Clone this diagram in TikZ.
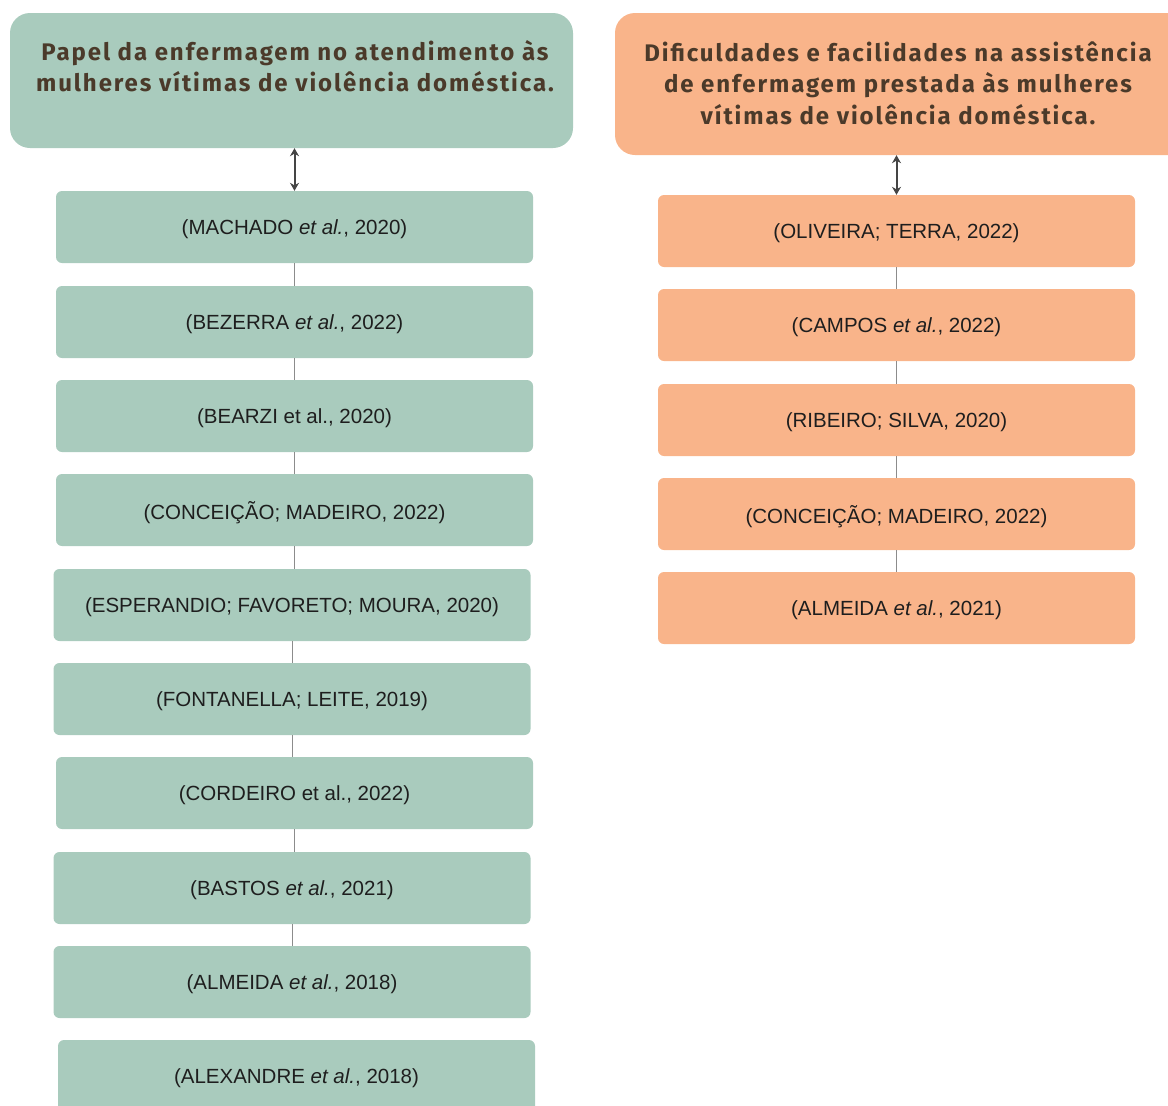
\documentclass[tikz,border=0pt]{standalone}
\usepackage{fontspec}
\setmainfont{Liberation Sans}
\newfontfamily\headfont[LetterSpace=8]{Fira Sans}
\definecolor{mint}{HTML}{A9CBBD}
\definecolor{peach}{HTML}{F9B48A}
\definecolor{brownink}{HTML}{4B3A2A}
\definecolor{linkgray}{HTML}{8C8C8C}
\definecolor{arrowgray}{HTML}{454545}
\definecolor{boxink}{HTML}{1E1E1E}
\usetikzlibrary{arrows.meta}
\tikzset{
  headbox/.style={rounded corners=20pt, inner sep=0pt, draw=none},
  headtext/.style={font=\headfont\bfseries\fontsize{24}{31.5}\selectfont, text=brownink, align=center, inner sep=0pt},
  refbox/.style={rounded corners=6pt, inner sep=0pt, minimum height=72pt, draw=none, text depth=0pt,
    font=\fontsize{20.5}{22}\selectfont, text=boxink},
  gbox/.style={refbox, fill=mint, minimum width=477pt},
  obox/.style={refbox, fill=peach, minimum width=477pt},
  link/.style={draw=linkgray, line width=0.9pt},
  dblarrow/.style={draw=arrowgray, line width=2pt, {Stealth[length=8pt,width=9pt]}-{Stealth[length=8pt,width=9pt]}}
}
\newcommand{\etal}{\textit{et al.}}
\begin{document}
\begin{tikzpicture}[x=1pt,y=-1pt]
\useasboundingbox (0,0) rectangle (1168,1106);
\clip (0,0) rectangle (1168,1106);

% headers
\node[headbox, fill=mint, minimum width=563pt, minimum height=135pt] (lh) at (291.5,80.5) {};
\node[headtext] (lht) at (295,66) {Papel da enfermagem no atendimento às\\mulheres vítimas de violência doméstica.};
\node[headbox, fill=peach, minimum width=580pt, minimum height=142pt] (rh) at (905,84) {};
\node[headtext] (rht) at (898,83) {Dificuldades e facilidades na assistência\\de enfermagem prestada às mulheres\\vítimas de violência doméstica.};

% left column
\node[gbox] (l1) at (294.5,227) {(MACHADO \etal, 2020)};
\node[gbox] (l2) at (294.5,322) {(BEZERRA \etal, 2022)};
\node[gbox] (l3) at (294.5,416) {(BEARZI et al., 2020)};
\node[gbox] (l4) at (294.5,510) {(CONCEIÇÃO; MADEIRO, 2022)};
\node[gbox] (l5) at (292,605) {(ESPERANDIO; FAVORETO; MOURA, 2020)};
\node[gbox] (l6) at (292,699) {(FONTANELLA; LEITE, 2019)};
\node[gbox] (l7) at (294.5,793) {(CORDEIRO et al., 2022)};
\node[gbox] (l8) at (292,888) {(BASTOS \etal, 2021)};
\node[gbox] (l9) at (292,982) {(ALMEIDA \etal, 2018)};
\node[gbox] (l10) at (296.5,1076) {(ALEXANDRE \etal, 2018)};

% right column
\node[obox] (r1) at (896.5,231) {(OLIVEIRA; TERRA, 2022)};
\node[obox] (r2) at (896.5,325) {(CAMPOS \etal, 2022)};
\node[obox] (r3) at (896.5,420) {(RIBEIRO; SILVA, 2020)};
\node[obox] (r4) at (896.5,514) {(CONCEIÇÃO; MADEIRO, 2022)};
\node[obox] (r5) at (896.5,608) {(ALMEIDA \etal, 2021)};

% header arrows
\draw[dblarrow] (l1.north |- lh.south) -- (l1.north);
\draw[dblarrow] (r1.north |- rh.south) -- (r1.north);

% links between reference boxes
\foreach \a/\b in {l1/l2,l2/l3,l3/l4,l4/l5,l5/l6,l6/l7,l7/l8,l8/l9,r1/r2,r2/r3,r3/r4,r4/r5}
  \draw[link] (\a.south) -- (\a.south |- \b.north);
\end{tikzpicture}
\end{document}
